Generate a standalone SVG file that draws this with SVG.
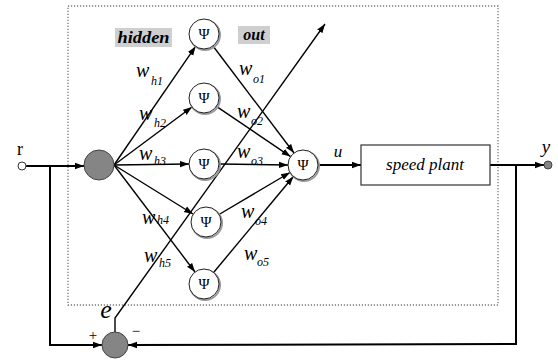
<svg xmlns="http://www.w3.org/2000/svg" width="558" height="363" viewBox="0 0 558 363">
<style>
.ln{stroke:#000;stroke-width:1.4;fill:none}
.thk{stroke:#000;stroke-width:2;fill:none}
.nd{fill:#fff;stroke:#222;stroke-width:1}
.sh{fill:none;stroke:#9a9a9a;stroke-width:2}
.psi{font-family:"Liberation Serif","Times New Roman",serif;font-size:15px;text-anchor:middle;fill:#000}
.w{font-family:"Liberation Serif","Times New Roman",serif;font-style:italic;font-size:20px;fill:#000}
.sub{font-family:"Liberation Serif","Times New Roman",serif;font-style:italic;font-size:12px;fill:#000}
.lbl{font-family:"Liberation Serif","Times New Roman",serif;font-style:italic;fill:#000}
.tag{font-family:"Liberation Serif","Times New Roman",serif;font-style:italic;font-weight:bold;font-size:16px;fill:#000;text-anchor:middle}
.gray{fill:#858585;stroke:#444;stroke-width:1}
</style>
<defs>
<marker id="ar" markerUnits="userSpaceOnUse" markerWidth="10" markerHeight="8" refX="9" refY="4" orient="auto">
<path d="M0,0.8 L9,4 L0,7.2 Z" fill="#000"/>
</marker>
</defs>
<rect x="68" y="6" width="430" height="299" fill="none" stroke="#777" stroke-width="1.3" stroke-dasharray="1.2,1.8"/>
<g id="connectors">
<line class="thk" x1="26" y1="166" x2="84" y2="166" marker-end="url(#ar)"/>
<line class="ln" x1="114" y1="165" x2="195.6" y2="46.4" marker-end="url(#ar)"/>
<line class="ln" x1="114" y1="165" x2="192" y2="107" marker-end="url(#ar)"/>
<line class="ln" x1="114" y1="165" x2="189" y2="164" marker-end="url(#ar)"/>
<line class="ln" x1="114" y1="165" x2="193" y2="214" marker-end="url(#ar)"/>
<line class="ln" x1="114" y1="165" x2="195" y2="272" marker-end="url(#ar)"/>
<line class="ln" x1="213" y1="46" x2="294" y2="153" marker-end="url(#ar)"/>
<line class="ln" x1="216.4" y1="106.4" x2="290.6" y2="156.6" marker-end="url(#ar)"/>
<line class="ln" x1="219" y1="164" x2="288" y2="165" marker-end="url(#ar)"/>
<line class="ln" x1="219" y1="214.5" x2="290" y2="172.5" marker-end="url(#ar)"/>
<line class="ln" x1="213.6" y1="272.5" x2="293.4" y2="176.5" marker-end="url(#ar)"/>
<line class="thk" x1="318" y1="165" x2="361" y2="165" marker-end="url(#ar)"/>
<line class="thk" x1="490" y1="165" x2="544" y2="165" marker-end="url(#ar)"/>
<polyline class="thk" points="516,165 516,344 128,345" marker-end="url(#ar)"/>
<polyline class="thk" points="50,166 50,345 102,345" marker-end="url(#ar)"/>
<polyline class="ln" points="115,332 115,318 325,24" marker-end="url(#ar)"/>
</g>
<g id="r-node"><circle cx="22" cy="166" r="4" fill="#fff" stroke="#333"/><text x="20" y="155" font-family="Liberation Serif, serif" font-size="18" text-anchor="middle">r</text></g>
<g id="input"><circle class="gray" cx="99" cy="165" r="15"/></g>
<g id="hidden-label"><rect x="115" y="28" width="57" height="19" fill="#cfcfcf"/><text class="tag" x="143.5" y="43" textLength="52" lengthAdjust="spacingAndGlyphs">hidden</text></g>
<g id="out-label"><rect x="238" y="26" width="32" height="18" fill="#cfcfcf"/><text class="tag" x="254" y="40">out</text></g>
<g id="h1"><circle class="sh" cx="205" cy="35" r="15"/><circle class="nd" cx="204" cy="34" r="15"/><text class="psi" x="204" y="39">Ψ</text></g>
<g id="h2"><circle class="sh" cx="205" cy="99" r="15"/><circle class="nd" cx="204" cy="98" r="15"/><text class="psi" x="204" y="103">Ψ</text></g>
<g id="h3"><circle class="sh" cx="205" cy="165" r="15"/><circle class="nd" cx="204" cy="164" r="15"/><text class="psi" x="204" y="169">Ψ</text></g>
<g id="h4"><circle class="sh" cx="207" cy="223" r="15"/><circle class="nd" cx="206" cy="222" r="15"/><text class="psi" x="206" y="227">Ψ</text></g>
<g id="h5"><circle class="sh" cx="205" cy="285" r="15"/><circle class="nd" cx="204" cy="284" r="15"/><text class="psi" x="204" y="289">Ψ</text></g>
<g id="out-node"><circle class="sh" cx="304" cy="166" r="15"/><circle class="nd" cx="303" cy="165" r="15"/><text class="psi" x="303" y="170">Ψ</text></g>
<g id="weights">
<text class="w" x="136" y="77">w</text><text class="sub" x="151" y="85">h1</text>
<text class="w" x="139" y="120">w</text><text class="sub" x="154" y="127">h2</text>
<text class="w" x="139" y="160">w</text><text class="sub" x="154" y="165">h3</text>
<text class="w" x="142" y="224">w</text><text class="sub" x="157" y="224">h4</text>
<text class="w" x="144" y="262">w</text><text class="sub" x="159" y="267">h5</text>
<text class="w" x="239" y="75">w</text><text class="sub" x="253" y="83">o1</text>
<text class="w" x="237" y="118">w</text><text class="sub" x="251" y="125">o2</text>
<text class="w" x="237" y="158">w</text><text class="sub" x="251" y="165">o3</text>
<text class="w" x="241" y="218">w</text><text class="sub" x="255" y="225">o4</text>
<text class="w" x="244" y="260">w</text><text class="sub" x="257" y="266">o5</text>
</g>
<g id="u-label"><text class="lbl" x="338" y="157" font-size="17" text-anchor="middle">u</text></g>
<g id="plant"><rect x="361" y="145" width="129" height="40" fill="#fff" stroke="#333" stroke-width="1.2"/><text class="lbl" x="425" y="170" font-size="17" text-anchor="middle">speed plant</text></g>
<g id="y-node"><circle class="gray" cx="548" cy="165" r="4"/><text class="lbl" x="546" y="153" font-size="19" text-anchor="middle">y</text></g>
<g id="sum"><circle class="gray" cx="115" cy="345" r="13"/><text class="lbl" x="106" y="318" font-size="26" text-anchor="middle">e</text><text x="93" y="340" font-family="Liberation Serif, serif" font-size="15" text-anchor="middle">+</text><text x="136" y="336" font-family="Liberation Serif, serif" font-size="15" text-anchor="middle">−</text></g>
</svg>
